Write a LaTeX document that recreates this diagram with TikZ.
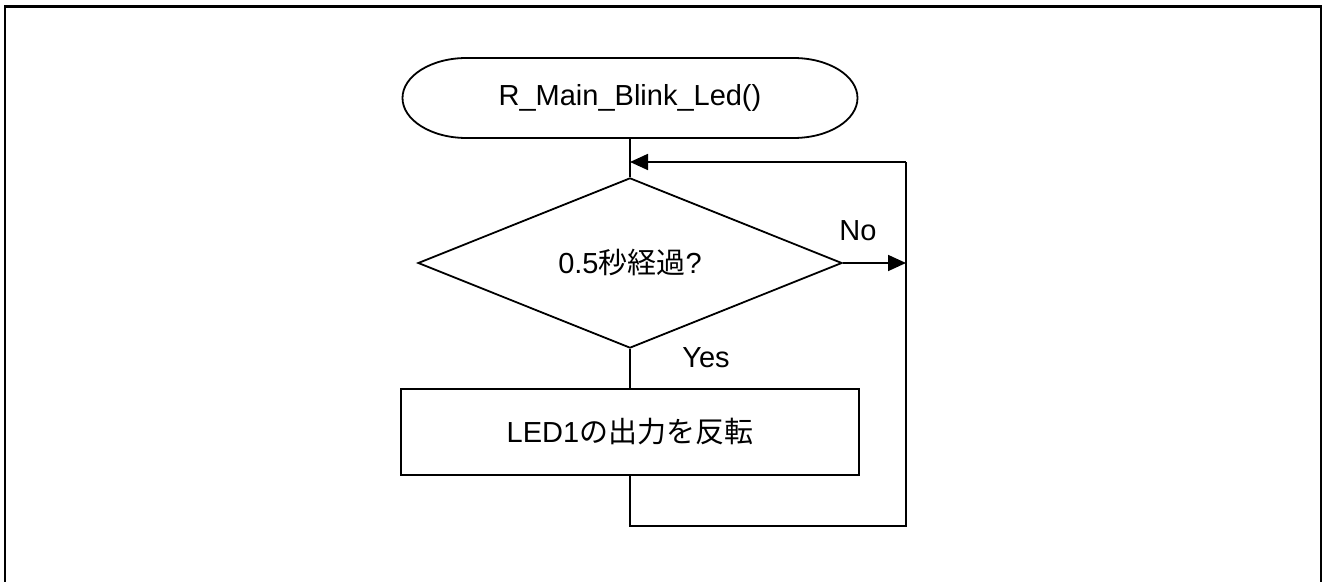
\documentclass[tikz,border=0pt]{standalone}
\usepackage{fontspec}
\setmainfont{Liberation Sans}
\newfontfamily\jp{Noto Sans CJK JP}
\usetikzlibrary{shapes.geometric,arrows.meta}

\begin{document}
\begin{tikzpicture}[x=0.5pt,y=-0.5pt,line width=0.9pt,
  >={Triangle[length=9pt,width=8pt]},
  every node/.style={font=\fontsize{14.5}{16}\selectfont},
  terminal/.style={rectangle,minimum width=227.5pt,minimum height=40pt,inner sep=0pt,outer sep=0pt},
  decision/.style={draw,diamond,minimum width=212pt,minimum height=79pt,inner sep=0pt},
  process/.style={draw,rectangle,minimum width=229pt,minimum height=43pt,inner sep=0pt}]
 \useasboundingbox (0,0) rectangle (1324,582);
 \draw [line width=1.3pt] (5,582) -- (5,6.5) -- (1321,6.5) -- (1321,582);

 \node [terminal] (start) at (630,98) {R\_Main\_Blink\_Led()};
 \draw ([xshift=32pt]start.north west) -- ([xshift=-32pt]start.north east)
   arc [start angle=90,end angle=-90,x radius=32pt,y radius=20pt]
   -- ([xshift=32pt]start.south west)
   arc [start angle=270,end angle=90,x radius=32pt,y radius=20pt] -- cycle;
 \node [decision] (cond) at (630,263) {0.5{\jp 秒経過}?};
 \node [process] (act) at (630,432) {LED1{\jp の出力を反転}};

 \coordinate (merge) at (630,162);
 \coordinate (noend) at (906,263);
 \coordinate (backtop) at (906,162);
 \coordinate (backright) at (906,526);
 \coordinate (backleft) at (630,526);

 \draw (start) -- (cond);
 \draw [->] (cond.east) -- (noend);
 \draw (cond) -- (act);
 \draw (act.south) -- (backleft) -- (backright) -- (backtop);
 \draw [->] (backtop) -- (merge);

 \node (no) at (858,231) {No};
 \node (yes) at (706,358) {Yes};
\end{tikzpicture}
\end{document}
